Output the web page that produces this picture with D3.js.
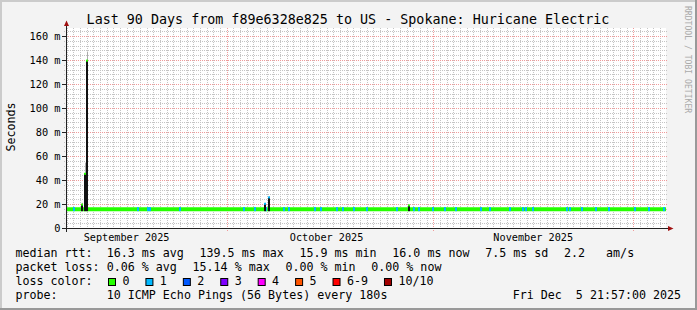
<!DOCTYPE html>
<html lang="en">
<head>
<meta charset="UTF-8">
<title>Last 90 Days from f89e6328e825 to US - Spokane: Huricane Electric</title>
<script src="https://cdn.jsdelivr.net/npm/d3@7"></script>
<style>
  body { margin: 0; background: #f3f3f3; }
  svg text { font-family: "DejaVu Sans Mono", monospace; fill: #000; white-space: pre; }
</style>
</head>
<body>
<div id="chart"></div>
<script>
// graph window
const endTime = "2025-12-05T21:57";
const spanDays = 90;

// median rtt (ms), flat for the whole period
const medianDates = ["2025-09-06T21:57", "2025-12-05T21:57"];
const medianValues = [15.7, 15.7];

// short stretches with lost pings (count of 10)
const lossDates = [
  "2025-09-08T03:00", "2025-09-17T17:00", "2025-09-19T05:00", "2025-09-19T12:00",
  "2025-09-24T00:00", "2025-10-03T15:00", "2025-10-05T06:00", "2025-10-06T22:00",
  "2025-10-09T15:00", "2025-10-10T09:00", "2025-10-14T06:00", "2025-10-15T04:00",
  "2025-10-17T13:00", "2025-10-18T11:00", "2025-10-20T03:00", "2025-10-22T01:00",
  "2025-10-26T13:00", "2025-10-29T03:00", "2025-10-29T21:00", "2025-10-31T23:00",
  "2025-11-02T18:00", "2025-11-04T10:00", "2025-11-08T04:00", "2025-11-09T12:00",
  "2025-11-12T12:00", "2025-11-14T11:00", "2025-11-14T22:00", "2025-11-15T23:00",
  "2025-11-21T01:00", "2025-11-21T12:00", "2025-11-23T07:00", "2025-11-25T10:00",
  "2025-11-27T09:00", "2025-12-01T06:00", "2025-12-03T09:00", "2025-12-05T15:00"
];
const lossCounts = [
  1, 1, 1, 1, 1, 1, 1, 1, 1, 1, 1, 1, 1, 1, 1, 1, 1, 1,
  1, 1, 1, 1, 1, 1, 1, 1, 1, 1, 1, 1, 1, 1, 1, 1, 1, 1
];

// rtt spikes: median and highest ping (ms)
const spikeDates = ["2025-09-09T07:30", "2025-09-09T18:20", "2025-09-10T03:20",
                    "2025-10-06T19:00", "2025-10-07T07:00", "2025-10-28T07:00"];
const spikeMedian = [19.5, 45.2, 139.5, 20.2, 25.5, 18.8];
const spikeMax = [21.0, 54.5, 147.0, 21.0, 26.5, 19.2];
const spikeLoss = [0, 0, 0, 1, 1, 0];

const yTicks = [0, 20, 40, 60, 80, 100, 120, 140, 160];
const monthLabels = ["September 2025", "October 2025", "November 2025"];

const lossLabels = ["0", "1", "2", "3", "4", "5", "6-9", "10/10"];
const lossColors = ["#26ff00", "#00b8ff", "#0059ff", "#7e00ff", "#ff00ff", "#ff5500", "#ff0000", "#a10000"];

const rttLegend = ["16.3 ms avg", "139.5 ms max", "15.9 ms min", "16.0 ms now", "7.5 ms sd", "2.2   am/s"];
const lossLegend = ["0.06 % avg", "15.14 % max", "0.00 % min", "0.00 % now"];
const probeText = "10 ICMP Echo Pings (56 Bytes) every 180s";
const stamp = "Fri Dec  5 21:57:00 2025";
const title = "Last 90 Days from f89e6328e825 to US - Spokane: Huricane Electric";

const W = 697, H = 310;
const pLeft = 66, pRight = 666, pTop = 28, pBottom = 228;
const adv = 7.02; // legend char advance
const glue = 2 * adv + 1.6;

const parse = s => new Date(s);
const tEnd = parse(endTime);
const tStart = d3.timeDay.offset(tEnd, -spanDays);

const x = d3.scaleTime().domain([tStart, tEnd]).range([pLeft, pRight]);
const y = d3.scaleLinear().domain([0, 200 / 1.2]).range([pBottom, pTop]);
const px = v => Math.round(v) + 0.5;

const svg = d3.select("#chart").append("svg")
  .attr("width", W).attr("height", H);

// frame
svg.append("rect").attr("width", W).attr("height", H).attr("fill", "#f3f3f3");
svg.append("path").attr("d", `M0,0H${W}V2H2V${H}H0Z`).attr("fill", "#cbcbcb");
svg.append("path").attr("d", `M${W},${H}H0V${H - 2}H${W - 2}V0H${W}Z`).attr("fill", "#999");

// canvas
svg.append("rect").attr("x", pLeft).attr("y", pTop)
  .attr("width", pRight - pLeft).attr("height", pBottom - pTop).attr("fill", "#fff");

const grid = svg.append("g").attr("fill", "none").attr("stroke-dasharray", "1,1");

// minor grid
const minorY = d3.range(0, 167, 4).filter(v => v % 20 !== 0);
grid.selectAll(".hmin").data(minorY).enter().append("line")
  .attr("x1", pLeft - 2).attr("x2", pRight + 1)
  .attr("y1", d => px(y(d))).attr("y2", d => px(y(d)))
  .attr("stroke", "#c4c4c4");
const days = d3.timeDay.range(d3.timeDay.ceil(tStart), tEnd)
  .filter(d => d.getDate() !== 1);
grid.selectAll(".vmin").data(days).enter().append("line")
  .attr("y1", pTop).attr("y2", pBottom + 2)
  .attr("x1", d => px(x(d))).attr("x2", d => px(x(d)))
  .attr("stroke", "#c4c4c4");

// major grid
grid.selectAll(".hmaj").data(yTicks.slice(1)).enter().append("line")
  .attr("x1", pLeft - 2).attr("x2", pRight + 1)
  .attr("y1", d => px(y(d))).attr("y2", d => px(y(d)))
  .attr("stroke", "#f09a9a");
const months = d3.timeMonth.range(d3.timeMonth.ceil(tStart), tEnd);
grid.selectAll(".vmaj").data(months).enter().append("line")
  .attr("y1", pTop).attr("y2", pBottom + 4)
  .attr("x1", d => px(x(d))).attr("x2", d => px(x(d)))
  .attr("stroke", "#f09a9a");

// median line
const line = d3.line().x(d => x(parse(d[0]))).y(d => y(d[1]));
svg.append("path")
  .datum(d3.zip(medianDates, medianValues))
  .attr("d", line)
  .attr("fill", "none")
  .attr("stroke", lossColors[0])
  .attr("stroke-width", 4);

// loss segments
svg.selectAll(".loss").data(d3.zip(lossDates, lossCounts)).enter().append("rect")
  .attr("x", d => Math.round(x(parse(d[0]))) - 1)
  .attr("y", y(medianValues[0]) - 2)
  .attr("width", 2).attr("height", 4)
  .attr("fill", d => lossColors[d[1]]);

// spikes
const spikes = spikeDates.map((d, i) => ({
  t: parse(d), med: spikeMedian[i], max: spikeMax[i], loss: spikeLoss[i]
}));
const sg = svg.append("g");
spikes.forEach(s => {
  const cx = Math.round(x(s.t));
  sg.append("rect").attr("x", cx).attr("width", 1)
    .attr("y", y(s.max)).attr("height", y(s.med) - y(s.max))
    .attr("fill", "#aaa");
  sg.append("rect").attr("x", cx - 1).attr("width", 2)
    .attr("y", y(s.med)).attr("height", y(medianValues[0]) + 2 - y(s.med))
    .attr("fill", "#111");
  sg.append("rect").attr("x", cx - 1).attr("width", 2)
    .attr("y", y(s.med) - 1).attr("height", 2)
    .attr("fill", lossColors[s.loss]);
});

// axes
const axis = svg.append("g").attr("stroke", "#222").attr("fill", "none");
axis.append("line").attr("x1", pLeft - 4).attr("x2", pRight + 2)
  .attr("y1", pBottom + 0.5).attr("y2", pBottom + 0.5);
axis.append("line").attr("x1", pLeft + 0.5).attr("x2", pLeft + 0.5)
  .attr("y1", pBottom + 4).attr("y2", pTop - 2);
axis.selectAll(".tick").data(yTicks).enter().append("line")
  .attr("x1", pLeft - 4).attr("x2", pLeft)
  .attr("y1", d => px(y(d))).attr("y2", d => px(y(d)));
svg.append("path").attr("d", `M${pLeft - 2},${pTop - 2}L${pLeft + 3},${pTop - 2}L${pLeft + 0.5},${pTop - 7.5}Z`)
  .attr("fill", "#a01010");
svg.append("path").attr("d", `M${pRight + 2},${pBottom - 2}L${pRight + 2},${pBottom + 3}L${pRight + 7.5},${pBottom + 0.5}Z`)
  .attr("fill", "#a01010");

// y labels
svg.selectAll(".ylab").data(yTicks).enter().append("text")
  .attr("x", 60.5).attr("y", d => y(d) + 4)
  .attr("text-anchor", "end").attr("font-size", 10.3)
  .text(d => d === 0 ? "0" : d + " m");

// month labels (centred mid month)
svg.selectAll(".xlab").data(months.map(m => d3.timeMonth.offset(m, -1))).enter().append("text")
  .attr("x", d => x(d3.timeDay.offset(d, 15)))
  .attr("y", 241).attr("text-anchor", "middle").attr("font-size", 10.2)
  .text((d, i) => monthLabels[i]);

// title and side texts
svg.append("text").attr("x", 348).attr("y", 24).attr("text-anchor", "middle")
  .attr("font-size", 13.37).text(title);
svg.append("text").attr("transform", "translate(15,127) rotate(-90)")
  .attr("text-anchor", "middle").attr("font-size", 11.67).text("Seconds");
svg.append("text").attr("transform", "translate(685,6) rotate(90)")
  .attr("font-size", 8.1).style("fill", "#aaa").text("RRDTOOL / TOBI OETIKER");

// legend
const lg = svg.append("g").attr("font-size", 11.67);
const col2 = 106.7;
function legendRow(label, items, yy) {
  lg.append("text").attr("x", 15.4).attr("y", yy).text(label);
  let cx = col2;
  items.forEach(s => {
    lg.append("text").attr("x", cx).attr("y", yy).text(s);
    cx += s.length * adv + glue;
  });
}
legendRow("median rtt:", rttLegend, 257);
legendRow("packet loss:", lossLegend, 271);
lg.append("text").attr("x", 15.4).attr("y", 285).text("loss color:");
let lx = 108;
lossLabels.forEach((s, i) => {
  lg.append("rect").attr("x", lx + 0.5).attr("y", 278.5).attr("width", 7).attr("height", 7)
    .attr("fill", lossColors[i]).attr("stroke", "#000");
  lg.append("text").attr("x", lx + 15 - 0.6).attr("y", 285).text(s);
  lx += 15 + s.length * adv + 15.4;
});
legendRow("probe:", [probeText], 299);
lg.append("text").attr("x", 512.7).attr("y", 299).text(stamp);
</script>
</body>
</html>
